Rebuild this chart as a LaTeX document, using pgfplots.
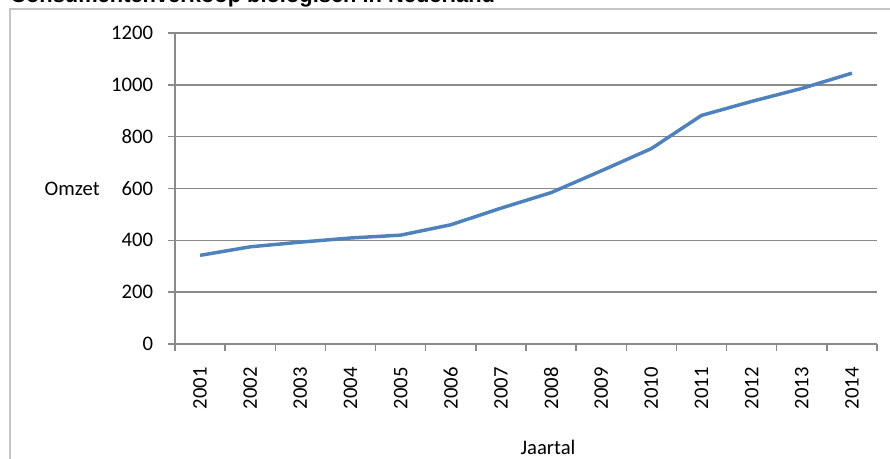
\documentclass[border=0pt]{standalone}
\usepackage{pgfplots}
\pgfplotsset{compat=1.18}
\usepackage{fontspec}
\setmainfont{Carlito}
\newfontfamily\titlefont{Liberation Sans}

\definecolor{lineblue}{HTML}{4F81BD}
\definecolor{gridgray}{HTML}{8A8A8A}
\definecolor{framegray}{HTML}{C4C4C4}

\begin{document}
\begin{tikzpicture}[x=0.75pt,y=0.75pt]
% 1 unit = 1 pixel of the 890x459 reference
\path[use as bounding box] (0,0) rectangle (890,459);
\clip (0,0) rectangle (890,459);
\draw[framegray, line width=1.5pt] (10,-5) -- (10,449.5) -- (900,449.5);
\node[anchor=base west, inner sep=0pt,
      font=\titlefont\bfseries\fontsize{16.4}{19}\selectfont] at (10,456)
  {Consumentenverkoop biologisch in Nederland};

\begin{axis}[
    at={(131.25pt,86.25pt)}, anchor=south west,
    scale only axis,
    width=526.5pt, height=233.25pt,
    font=\fontsize{15.5}{18}\selectfont,
    /pgf/number format/assume math mode=true,
    /pgf/number format/1000 sep={},
    xmin=-0.5, xmax=13.5,
    ymin=0, ymax=1200,
    ytick={0,200,...,1200},
    xtick={0,...,13},
    xticklabels={2001,2002,2003,2004,2005,2006,2007,2008,2009,2010,2011,2012,2013,2014},
    minor xtick={-0.5,0.5,...,13.5},
    major x tick style={draw=none},
    axis lines=left,
    axis line style={-, gridgray, line width=1.1pt},
    tick style={gridgray, line width=1.1pt},
    tick align=outside,
    major tick length=5.25pt,
    minor tick length=5.25pt,
    ymajorgrids,
    grid style={gridgray, line width=1.1pt},
    yticklabel style={anchor=east, inner sep=0pt, xshift=-11pt},
    xticklabel style={yshift=-12pt, rotate=90, anchor=east, inner sep=0pt},
    every axis y label/.style={at={(axis description cs:0,0.5)}, anchor=east, inner sep=0pt, xshift=-56.25pt},
    every axis x label/.style={at={(axis description cs:0.5,0)}, anchor=center, xshift=16.5pt, yshift=-77.25pt},
    ylabel={Omzet},
    xlabel={Jaartal},
    clip=false,
]
\addplot[lineblue, line width=2.6pt, line join=round] coordinates {
    (0,342) (1,375) (2,393) (3,409) (4,420) (5,460) (6,524)
    (7,584) (8,668) (9,754) (10,882) (11,936) (12,986) (13,1045)
};
\end{axis}
\end{tikzpicture}
\end{document}
